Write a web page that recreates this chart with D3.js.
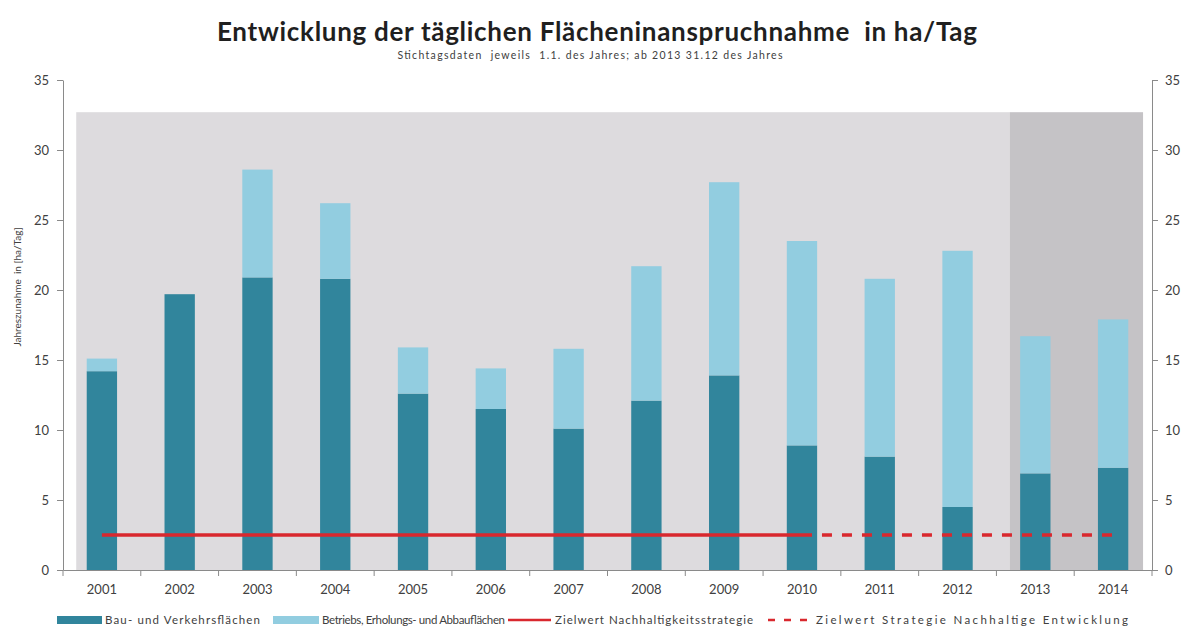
<!DOCTYPE html>
<html lang="de">
<head>
<meta charset="utf-8">
<script src="https://cdn.jsdelivr.net/npm/d3@7"></script>
<style>
  html, body { margin: 0; padding: 0; background: #ffffff; }
  svg { display: block; font-family: Lato, "Open Sans", sans-serif; }
  text { white-space: pre; }
</style>
</head>
<body>
<svg id="chart" width="1188" height="633"></svg>
<script>
// Jahre (Kategorien)
const years = ["2001","2002","2003","2004","2005","2006","2007","2008","2009","2010","2011","2012","2013","2014"];
// Bau- und Verkehrsflächen, ha/Tag
const bauVerkehr = [14.2, 19.7, 20.9, 20.8, 12.6, 11.5, 10.1, 12.1, 13.9, 8.9, 8.1, 4.5, 6.9, 7.3];
// Betriebs-, Erholungs- und Abbauflächen, ha/Tag (aufgesetzt)
const betriebErholung = [0.9, 0.0, 7.7, 5.4, 3.3, 2.9, 5.7, 9.6, 13.8, 14.6, 12.7, 18.3, 9.8, 10.6];
// Zielwert in ha/Tag
const zielwert = 2.5;
const zielYearsSolid = ["2001", "2010"];
const zielYearsDashed = ["2010", "2014"];
// Hinterlegung der beiden Erhebungszeiträume
const periods = [
  { from: "2001", to: "2012", fill: "#dddbde" },
  { from: "2013", to: "2014", fill: "#c5c3c6" }
];
const periodTop = 32.7;
// Achsenticks
const yTicks = [0, 5, 10, 15, 20, 25, 30, 35];

const titleText = "Entwicklung der täglichen Flächeninanspruchnahme  in ha/Tag";
const subtitleText = "Stichtagsdaten  jeweils  1.1. des Jahres; ab 2013 31.12 des Jahres";
const yLabel = "Jahreszunahme  in [ha/Tag]";
const legendLabels = [
  "Bau- und Verkehrsflächen",
  "Betriebs, Erholungs- und Abbauflächen",
  "Zielwert Nachhaltigkeitsstrategie",
  "Zielwert Strategie Nachhaltige Entwicklung"
];

const colDark = "#31859c";
const colLight = "#92cde0";
const colRed = "#d9282e";
const colAxis = "#8a8a8a";
const colText = "#404040";

const svg = d3.select("#chart");
const plot = { left: 63, right: 1152, top: 80, bottom: 570 };

const x = d3.scaleBand().domain(years).range([plot.left, plot.right]).padding(0);
const y = d3.scaleLinear().domain([0, 35]).range([plot.bottom, plot.top]);
const bw = x.bandwidth();
const barW = bw * 0.39;
const cx = d => x(d) + bw / 2;

// Hinterlegung
const shadeInsetL = bw * 0.17, shadeInsetR = bw * 0.115;
svg.append("g").selectAll("rect")
  .data(periods)
  .join("rect")
  .attr("x", d => x(d.from) + shadeInsetL)
  .attr("width", (d, i) => {
    const end = i < periods.length - 1
      ? x(periods[i + 1].from) + shadeInsetL
      : x(d.to) + bw - shadeInsetR;
    return end - (x(d.from) + shadeInsetL);
  })
  .attr("y", y(periodTop))
  .attr("height", y(0) - y(periodTop))
  .attr("fill", d => d.fill);

// gestapelte Säulen
const rows = years.map((yr, i) => ({ yr, a: bauVerkehr[i], b: betriebErholung[i] }));
const stack = d3.stack().keys(["a", "b"])(rows);
const fills = [colDark, colLight];
svg.append("g").selectAll("g")
  .data(stack)
  .join("g")
  .attr("fill", (d, i) => fills[i])
  .selectAll("rect")
  .data(d => d)
  .join("rect")
  .attr("x", d => cx(d.data.yr) - barW / 2)
  .attr("width", barW)
  .attr("y", d => y(d[1]))
  .attr("height", d => Math.max(0, y(d[0]) - y(d[1])));

// Zielwert-Linien
const line = d3.line().x(d => cx(d)).y(() => y(zielwert));
svg.append("path")
  .attr("d", line(zielYearsDashed))
  .attr("fill", "none").attr("stroke", colRed).attr("stroke-width", 3.5)
  .attr("stroke-dasharray", "10,10");
svg.append("path")
  .attr("d", line(zielYearsSolid))
  .attr("fill", "none").attr("stroke", colRed).attr("stroke-width", 3.5);

// Achsen
const styleAxis = g => {
  g.select(".domain").attr("stroke", colAxis);
  g.selectAll(".tick line").attr("stroke", colAxis);
  g.selectAll(".tick text").attr("fill", colText).attr("font-size", 13)
    .attr("font-family", "Lato, 'Open Sans', sans-serif");
};
svg.append("g")
  .attr("transform", `translate(${plot.left},0)`)
  .call(d3.axisLeft(y).tickValues(yTicks).tickSize(6).tickPadding(8).tickSizeOuter(0))
  .call(styleAxis);
svg.append("g")
  .attr("transform", `translate(${plot.right},0)`)
  .call(d3.axisRight(y).tickValues(yTicks).tickSize(6).tickPadding(7).tickSizeOuter(0))
  .call(styleAxis);

svg.append("g")
  .attr("transform", `translate(0,${plot.bottom})`)
  .call(d3.axisBottom(x).tickSize(0).tickPadding(15).tickSizeOuter(0))
  .call(styleAxis);
// Teilstriche zwischen den Kategorien
svg.append("g").selectAll("line")
  .data(d3.range(years.length + 1))
  .join("line")
  .attr("x1", i => plot.left + bw * i)
  .attr("x2", i => plot.left + bw * i)
  .attr("y1", plot.bottom).attr("y2", plot.bottom + 6)
  .attr("stroke", colAxis);

// Titel
svg.append("text")
  .attr("x", 597).attr("y", 41)
  .attr("text-anchor", "middle")
  .attr("font-size", 26).attr("font-weight", 700).attr("fill", "#1f1f1f")
  .attr("textLength", 760).attr("lengthAdjust", "spacing")
  .text(titleText);
svg.append("text")
  .attr("x", 590).attr("y", 59)
  .attr("text-anchor", "middle")
  .attr("font-size", 10.5).attr("fill", colText)
  .attr("textLength", 385).attr("lengthAdjust", "spacing")
  .text(subtitleText);

// y-Achsentitel
svg.append("text")
  .attr("transform", `translate(21,${287}) rotate(-90)`)
  .attr("text-anchor", "middle")
  .attr("font-size", 10).attr("fill", colText)
  .text(yLabel);

// Legende
const legY = 620;
const leg = svg.append("g").attr("font-size", 11.5).attr("fill", colText);
const legendSym = [
  { x: 57, w: 45, type: "rect", color: colDark, tx: 105, tw: 155 },
  { x: 273, w: 46, type: "rect", color: colLight, tx: 322, tw: 183 },
  { x: 508, w: 43, type: "line", color: colRed, tx: 555, tw: 198 },
  { x: 768, w: 44, type: "dash", color: colRed, tx: 816, tw: 312 }
];
legendSym.forEach((s, i) => {
  if (s.type === "rect") {
    leg.append("rect").attr("x", s.x).attr("y", legY - 4).attr("width", s.w).attr("height", 8).attr("fill", s.color);
  } else {
    leg.append("line").attr("x1", s.x).attr("x2", s.x + s.w).attr("y1", legY).attr("y2", legY)
      .attr("stroke", s.color).attr("stroke-width", 2.5)
      .attr("stroke-dasharray", s.type === "dash" ? "7,9" : null);
  }
  leg.append("text").attr("x", s.tx).attr("y", legY + 4)
    .attr("textLength", s.tw).attr("lengthAdjust", "spacing")
    .text(legendLabels[i]);
});
</script>
</body>
</html>
